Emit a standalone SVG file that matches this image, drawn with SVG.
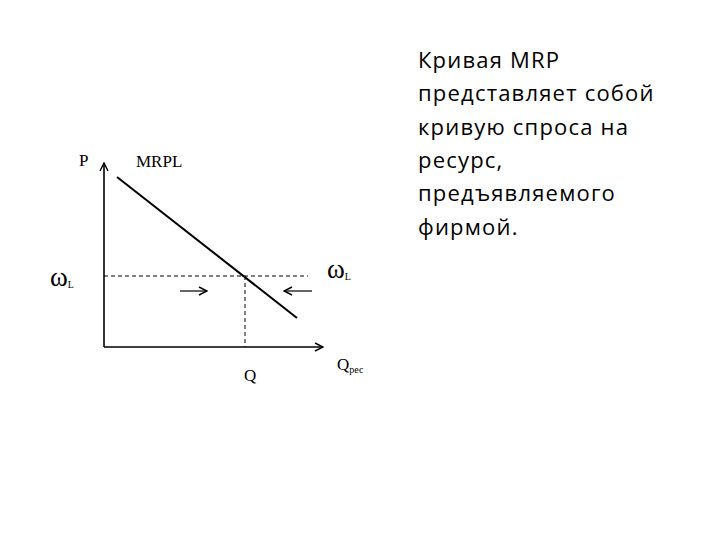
<svg xmlns="http://www.w3.org/2000/svg" width="720" height="540" viewBox="0 0 720 540">
<style>
.ax{stroke:#000;stroke-width:1.6;fill:none}
.crv{stroke:#000;stroke-width:2;fill:none}
.dash{stroke:#000;stroke-width:1;stroke-dasharray:4,3;fill:none}
.thin{stroke:#000;stroke-width:1.2;fill:none}
.lbl{font-family:"Liberation Serif",serif;font-size:17px;fill:#000}
.om{font-family:"Liberation Serif",serif;font-size:27px;fill:#000}
.sub{font-family:"Liberation Serif",serif;font-size:10px;fill:#000}
.body{font-family:"Open Sans","Noto Sans",sans-serif;font-size:22px;letter-spacing:1.2px;fill:#000}
</style>
<defs>
<marker id="ah" viewBox="0 0 10 10" refX="9" refY="5" markerWidth="10" markerHeight="10" markerUnits="userSpaceOnUse" orient="auto">
<path d="M1,1 L9,5 L1,9" fill="none" stroke="#000" stroke-width="1.4"/>
</marker>
</defs>
<rect width="720" height="540" fill="#fff"/>
<g id="connectors">
<path class="ax" d="M104,347 L104,163" marker-end="url(#ah)"/>
<path class="ax" d="M104,347 L323,347" marker-end="url(#ah)"/>
<path class="crv" d="M117,177 L297,318"/>
<path class="dash" d="M104,276 L308,276"/>
<path class="dash" d="M245,276 L245,347"/>
<path class="thin" d="M180,291 L207,291" marker-end="url(#ah)"/>
<path class="thin" d="M312,291 L284,291" marker-end="url(#ah)"/>
</g>
<g id="labels">
<text class="lbl" x="79" y="166">P</text>
<text class="lbl" x="136" y="167">MRPL</text>
<text class="om" x="50" y="286">ω<tspan class="sub" dy="2">L</tspan></text>
<text class="om" x="327" y="278">ω<tspan class="sub" dy="2">L</tspan></text>
<text class="lbl" x="244" y="381">Q</text>
<text class="lbl" x="337" y="370">Q<tspan class="sub" dy="3">рес</tspan></text>
</g>
<g id="caption">
<text class="body" x="418" y="68">Кривая MRP</text>
<text class="body" x="418" y="101">представляет собой</text>
<text class="body" x="418" y="135">кривую спроса на</text>
<text class="body" x="418" y="168">ресурс,</text>
<text class="body" x="418" y="201">предъявляемого</text>
<text class="body" x="418" y="235">фирмой.</text>
</g>
</svg>
